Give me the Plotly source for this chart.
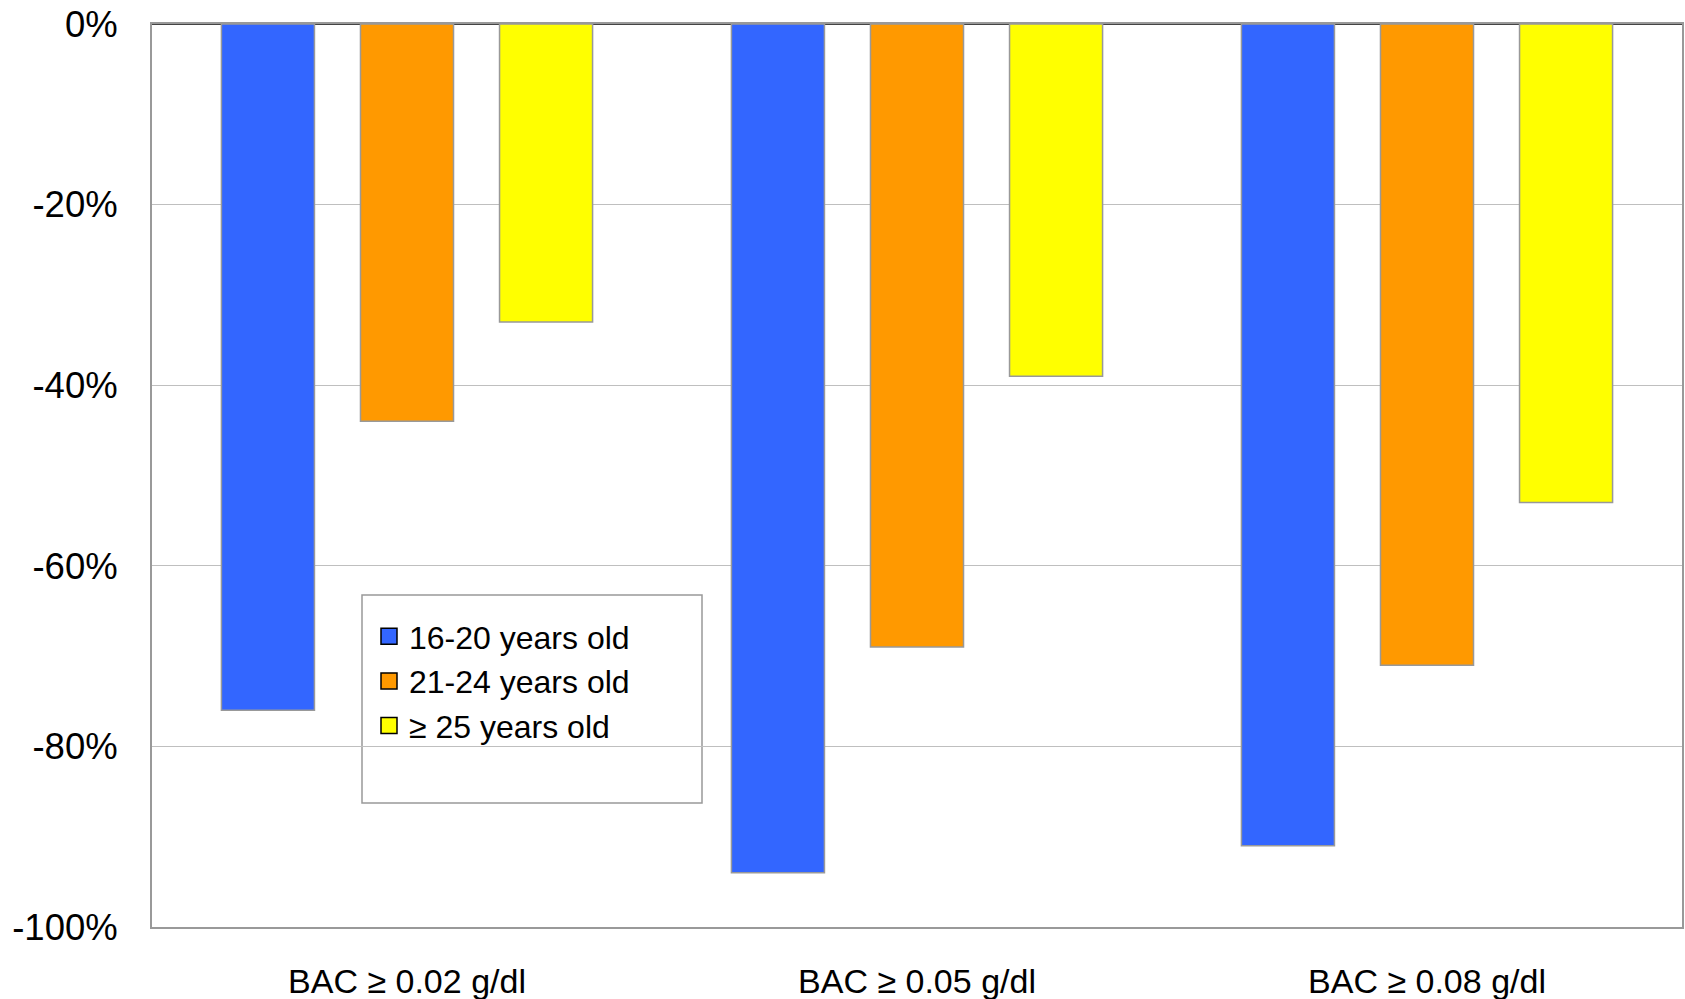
import plotly.graph_objects as go

categories = ["BAC ≥ 0.02 g/dl", "BAC ≥ 0.05 g/dl", "BAC ≥ 0.08 g/dl"]
series_names = ["16-20 years old", "21-24 years old", "≥ 25 years old"]
values_16_20 = [-76, -94, -91]
values_21_24 = [-44, -69, -71]
values_25_plus = [-33, -39, -53]
colors = ["#3366FF", "#FF9900", "#FFFF00"]
y_ticks = [0, -20, -40, -60, -80, -100]

W, H = 1685, 999
L, R, T, B = 152, 3, 24, 72
pw, ph = W - L - R, H - T - B

fig = go.Figure()
for name, vals, col in zip(series_names, [values_16_20, values_21_24, values_25_plus], colors):
    fig.add_trace(go.Bar(
        x=categories, y=vals, name=name, showlegend=False,
        marker=dict(color=col, line=dict(color="#999999", width=1.5)),
    ))
# legend entries (larger square swatches with dark outline, as in the reference)
for name, col in zip(series_names, colors):
    fig.add_trace(go.Scatter(
        x=[None], y=[None], mode="markers", name=name,
        marker=dict(symbol="square", size=18, color=col, line=dict(color="black", width=1.5)),
    ))

font = "Liberation Sans, Arial, sans-serif"

def px_x(p):
    return (p - L) / pw

def px_y(p):
    return (H - B - p) / ph

fig.update_layout(
    width=W, height=H,
    margin=dict(l=L, r=R, t=T, b=B, autoexpand=False),
    paper_bgcolor="white", plot_bgcolor="white",
    barmode="group", bargap=0.182, bargroupgap=0.331,
    font=dict(family=font, color="black", size=34),
    showlegend=True,
    legend=dict(
        x=px_x(369), y=px_y(609), xanchor="left", yanchor="top",
        bgcolor="rgba(0,0,0,0)", borderwidth=0, itemsizing="trace",
        font=dict(size=32, family=font),
    ),
    shapes=[dict(
        type="rect", xref="paper", yref="paper",
        x0=px_x(362), x1=px_x(702), y0=px_y(803), y1=px_y(595),
        line=dict(color="#999999", width=1.5), fillcolor="white", layer="below",
    )],
)
fig.update_xaxes(
    showline=True, linecolor="#999999", linewidth=2, mirror=True,
    showgrid=False, ticks="", tickfont=dict(size=34),
    ticklabelstandoff=23, automargin=False,
)
fig.update_yaxes(
    range=[-100, 0], tickvals=y_ticks,
    ticktext=[f"{v}%" for v in y_ticks],
    showgrid=True, gridcolor="#BFBFBF", gridwidth=1,
    showline=True, linecolor="#999999", linewidth=2, mirror=True,
    zeroline=True, zerolinecolor="#444444", zerolinewidth=2,
    ticks="", tickfont=dict(size=36.5), ticklabelstandoff=25, automargin=False,
)

fig.write_html("out.html")
